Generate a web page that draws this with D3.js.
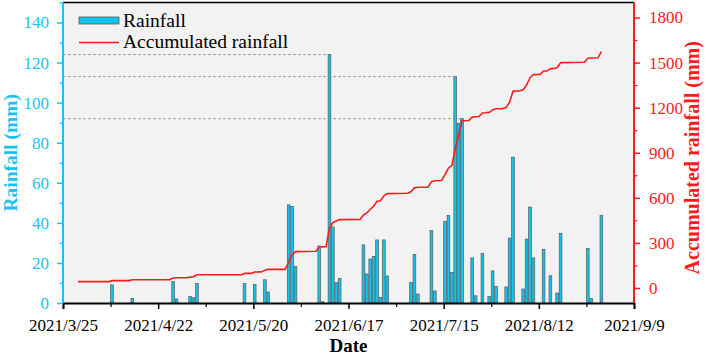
<!DOCTYPE html>
<html><head><meta charset="utf-8">
<script src="https://cdn.jsdelivr.net/npm/d3@7"></script>
<style>
html,body{margin:0;padding:0;background:#fff;}
svg text{font-family:"Liberation Serif","Times New Roman",serif;}
</style></head>
<body><svg id="chart" width="706" height="354"></svg>
<script>
// ---- data ----
const barDates = ["2021-04-08","2021-04-14","2021-04-26","2021-04-27","2021-05-01","2021-05-02","2021-05-03",
"2021-05-17","2021-05-20","2021-05-23","2021-05-24","2021-05-30","2021-05-31","2021-06-01","2021-06-08","2021-06-09",
"2021-06-11","2021-06-12","2021-06-13","2021-06-14","2021-06-21","2021-06-22","2021-06-23","2021-06-24","2021-06-25",
"2021-06-26","2021-06-27","2021-06-28","2021-07-05","2021-07-06","2021-07-07","2021-07-11","2021-07-12","2021-07-15",
"2021-07-16","2021-07-17","2021-07-18","2021-07-19","2021-07-20","2021-07-23","2021-07-24","2021-07-26","2021-07-28",
"2021-07-29","2021-07-30","2021-08-02","2021-08-03","2021-08-04","2021-08-07","2021-08-08","2021-08-09","2021-08-10",
"2021-08-13","2021-08-15","2021-08-17","2021-08-18","2021-08-26","2021-08-27","2021-08-30"];
const barValues = [9,2.3,10.8,2,3.2,2.6,9.8,
9.8,9.3,11.6,5.5,49,48.2,18.3,28.5,0.6,
124,38,10.2,12.2,29,14.5,22,23.3,31.5,
2.8,31.5,13.5,10.3,24.3,4.5,36.2,6,40.7,
43.7,15.3,113,89.7,92,22.5,3.6,24.8,3.2,
16,8.3,8,32.4,72.8,7,31.9,47.9,22.5,
26.8,13.6,5,34.8,27.2,2.3,43.7];

const cumDates = ["2021-03-29","2021-04-07","2021-04-08","2021-04-13","2021-04-14","2021-04-25","2021-04-26","2021-04-27",
"2021-04-30","2021-05-01","2021-05-02","2021-05-03","2021-05-16","2021-05-17","2021-05-19","2021-05-20","2021-05-22",
"2021-05-23","2021-05-24","2021-05-29","2021-05-30","2021-05-31","2021-06-01","2021-06-07","2021-06-08","2021-06-10",
"2021-06-11","2021-06-12","2021-06-13","2021-06-14","2021-06-20","2021-06-21","2021-06-22","2021-06-23","2021-06-24",
"2021-06-25","2021-06-26","2021-06-27","2021-06-28","2021-07-04","2021-07-05","2021-07-06","2021-07-07","2021-07-10",
"2021-07-11","2021-07-12","2021-07-14","2021-07-15","2021-07-16","2021-07-17","2021-07-18","2021-07-19","2021-07-20",
"2021-07-22","2021-07-23","2021-07-24","2021-07-25","2021-07-26","2021-07-27","2021-07-28","2021-07-29","2021-07-30",
"2021-08-01","2021-08-02","2021-08-03","2021-08-04","2021-08-06","2021-08-07","2021-08-08","2021-08-09","2021-08-10",
"2021-08-12","2021-08-13","2021-08-14","2021-08-15","2021-08-16","2021-08-17","2021-08-18","2021-08-25","2021-08-26",
"2021-08-27","2021-08-29","2021-08-30"];
const cumValues = [42,42,49,49,55,55,66,68,
68,72,75,88,88,97,97,106,107,
118,124,124,173,222,242,244,273,275,
398,436,446,455,456,486,500,522,545,
577,581,613,628,630,641,666,670,671,
707,714,715,755,798,814,926,1016,1113,
1115,1137,1140,1141,1165,1166,1169,1185,1193,
1194,1202,1236,1310,1312,1319,1351,1399,1420,
1421,1444,1445,1460,1461,1466,1500,1502,1529,
1531,1532,1573];

const peakDates = ["2021-06-11","2021-07-18","2021-07-20"];
const xTickDates = ["2021-03-25","2021-04-22","2021-05-20","2021-06-17","2021-07-15","2021-08-12","2021-09-09"];
const xMinorDates = ["2021-04-08","2021-05-06","2021-06-03","2021-07-01","2021-07-29","2021-08-26"];
const leftTicks = [0,20,40,60,80,100,120,140];
const leftMinor = [10,30,50,70,90,110,130,150];
const rightTicks = [0,300,600,900,1200,1500,1800];
const rightMinor = [150,450,750,1050,1350,1650];
const legendLabels = ["Rainfall","Accumulated rainfall"];

// ---- setup ----
const FONT = '"Liberation Serif","Times New Roman",serif';
const parse = d3.utcParse("%Y-%m-%d");
const fmt = d3.utcFormat("%Y/%-m/%-d");
const key = d3.utcFormat("%Y-%m-%d");
const svg = d3.select("#chart");
const L = 63, R = 634, T = 2.5, B = 303;
const CYAN = "#19c3f0", RED = "#ff1a1a", BAR = "#0fc4ef";

const x = d3.scaleUtc().domain([parse(xTickDates[0]), parse(xTickDates[xTickDates.length-1])]).range([L, R]);
const yL = d3.scaleLinear().domain([0,150]).range([B, T]);
const yR = d3.scaleLinear().domain([-100,1900]).range([B, T]);
const dayW = x(parse("2021-03-26")) - x(parse("2021-03-25"));
const bw = dayW * 0.8;

svg.append("rect").attr("x",L).attr("y",T).attr("width",R-L).attr("height",B-T).attr("fill","#f2f2f2");

const bars = barDates.map((d,i)=>({date:parse(d), v:barValues[i]}));
const cum = cumDates.map((d,i)=>({date:parse(d), v:cumValues[i]}));

// dashed peak lines
const peaks = bars.filter(b => peakDates.includes(key(b.date)));
svg.append("g").selectAll("line").data(peaks).join("line")
  .attr("x1",L).attr("x2",d=>x(d.date)).attr("y1",d=>yL(d.v)).attr("y2",d=>yL(d.v))
  .attr("stroke","#a0a0a0").attr("stroke-width",1).attr("stroke-dasharray","3,2");

// bars
svg.append("g").selectAll("rect").data(bars).join("rect")
  .attr("x",d=>x(d.date)).attr("y",d=>yL(d.v)).attr("width",bw).attr("height",d=>B-yL(d.v))
  .attr("fill",BAR).attr("stroke","#5a5a5a").attr("stroke-width",0.7);

// cumulative line
const line = d3.line().x(d=>x(d.date)+bw/2).y(d=>yR(d.v));
svg.append("path").datum(cum).attr("d",line).attr("fill","none").attr("stroke",RED).attr("stroke-width",1.6)
  .attr("stroke-linejoin","round");

// top frame
svg.append("line").attr("x1",L).attr("x2",R).attr("y1",T).attr("y2",T).attr("stroke","#000").attr("stroke-width",1.5);

function styleText(g, color){
  g.attr("font-family", null).attr("font-size", null);
  g.selectAll(".tick text").style("font-family",FONT).style("font-size","17px").attr("fill",color);
}

// x axis
const xAxis = d3.axisBottom(x).tickValues(xTickDates.map(parse)).tickFormat(fmt).tickSize(6).tickPadding(10);
const gx = svg.append("g").attr("transform",`translate(0,${B})`).call(xAxis);
gx.select(".domain").attr("stroke","#000").attr("stroke-width",1.8);
gx.selectAll(".tick line").attr("stroke","#000").attr("stroke-width",1.5);
styleText(gx, "#000");
const gxm = svg.append("g").attr("transform",`translate(0,${B})`).call(d3.axisBottom(x).tickValues(xMinorDates.map(parse)).tickSize(4).tickFormat(""));
gxm.select(".domain").remove();
gxm.selectAll(".tick line").attr("stroke","#000").attr("stroke-width",1.2);

// left axis
const gl = svg.append("g").attr("transform",`translate(${L},0)`).call(d3.axisLeft(yL).tickValues(leftTicks).tickFormat(d3.format("d")).tickSize(6).tickPadding(8));
gl.select(".domain").attr("stroke",CYAN).attr("stroke-width",2).attr("d",`M0,${B}V${T}`);
gl.selectAll(".tick line").attr("stroke",CYAN).attr("stroke-width",1.5);
styleText(gl, CYAN);
const glm = svg.append("g").attr("transform",`translate(${L},0)`).call(d3.axisLeft(yL).tickValues(leftMinor).tickSize(3.5).tickFormat(""));
glm.select(".domain").remove();
glm.selectAll(".tick line").attr("stroke",CYAN).attr("stroke-width",1.2);

// right axis
const gr = svg.append("g").attr("transform",`translate(${R},0)`).call(d3.axisRight(yR).tickValues(rightTicks).tickFormat(d3.format("d")).tickSize(6).tickPadding(9));
gr.select(".domain").attr("stroke",RED).attr("stroke-width",2).attr("d",`M0,${B}V${T}`);
gr.selectAll(".tick line").attr("stroke",RED).attr("stroke-width",1.5);
styleText(gr, RED);
const grm = svg.append("g").attr("transform",`translate(${R},0)`).call(d3.axisRight(yR).tickValues(rightMinor).tickSize(3.5).tickFormat(""));
grm.select(".domain").remove();
grm.selectAll(".tick line").attr("stroke",RED).attr("stroke-width",1.2);

// axis titles
svg.append("text").attr("transform",`translate(17,${(T+B)/2}) rotate(-90)`).attr("text-anchor","middle")
  .style("font-size","19.5px").attr("font-weight","bold").attr("fill",CYAN).text("Rainfall (mm)");
svg.append("text").attr("transform",`translate(699,${(T+B)/2+5}) rotate(-90)`).attr("text-anchor","middle")
  .style("font-size","20px").attr("font-weight","bold").attr("fill",RED).text("Accumulated rainfall (mm)");
svg.append("text").attr("x",(L+R)/2).attr("y",351.5).attr("text-anchor","middle")
  .style("font-size","19px").attr("font-weight","bold").attr("fill","#000").text("Date");

// legend
const lg = svg.append("g");
lg.append("rect").attr("x",79).attr("y",17).attr("width",40).attr("height",7).attr("fill",BAR).attr("stroke","#5a5a5a").attr("stroke-width",0.8);
lg.append("line").attr("x1",79).attr("x2",119).attr("y1",42.5).attr("y2",42.5).attr("stroke",RED).attr("stroke-width",1.6);
lg.selectAll("text").data(legendLabels).join("text").attr("x",123).attr("y",(d,i)=>27+i*21)
  .style("font-size","19.5px").attr("fill","#000").text(d=>d);
</script></body></html>
